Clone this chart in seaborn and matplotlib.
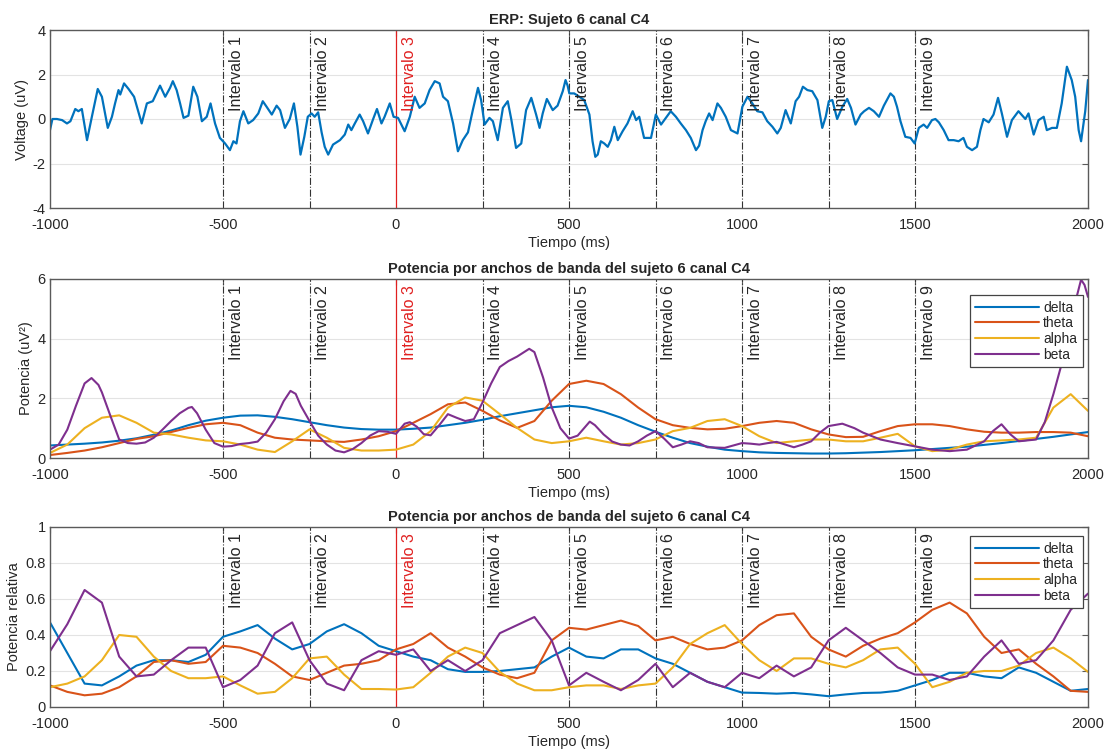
import numpy as np
import pandas as pd
import matplotlib
matplotlib.use("Agg")
import matplotlib.pyplot as plt
import matplotlib.transforms as mtransforms
import seaborn as sns

# ---------------- data ----------------
ERP_T = [-1000, -993, -980, -965, -951, -941, -927, -918, -908, -893, -879, -862, -850, -833, -821,
         -812, -802, -797, -786, -773, -757, -735, -720, -703, -691, -682, -667, -653, -645, -634,
         -624, -614, -600, -586, -574, -561, -547, -536, -523, -509, -494, -480, -470, -461, -451,
         -441, -427, -413, -398, -385, -374, -359, -345, -335, -321, -307, -295, -285, -276, -265,
         -255, -244, -235, -225, -215, -206, -196, -182, -162, -148, -138, -129, -119, -105, -95,
         -81, -66, -55, -42, -33, -18, -7, 6, 25, 40, 54, 68, 83, 97, 112, 126, 136, 150, 165, 179,
         193, 208, 222, 237, 246, 256, 270, 280, 294, 309, 323, 333, 347, 362, 376, 391, 405, 415,
         424, 436, 453, 467, 482, 490, 496, 501, 515, 530, 544, 559, 568, 576, 583, 592, 602, 612,
         621, 631, 641, 655, 669, 684, 694, 703, 717, 737, 751, 766, 780, 794, 809, 823, 838, 852,
         867, 876, 886, 895, 905, 915, 929, 939, 953, 968, 987, 1001, 1016, 1030, 1044, 1059, 1073,
         1088, 1102, 1112, 1126, 1141, 1155, 1165, 1176, 1189, 1203, 1218, 1232, 1242, 1251, 1261,
         1275, 1290, 1304, 1315, 1328, 1343, 1353, 1367, 1381, 1396, 1410, 1429, 1439, 1448, 1458,
         1472, 1487, 1499, 1511, 1525, 1535, 1549, 1559, 1569, 1583, 1597, 1612, 1626, 1640, 1650,
         1665, 1679, 1689, 1698, 1713, 1727, 1740, 1751, 1766, 1780, 1799, 1819, 1828, 1843, 1857,
         1872, 1881, 1896, 1910, 1924, 1939, 1953, 1963, 1973, 1980, 1992, 2000]
ERP_V = [-0.5, 0.0, 0.0, -0.05, -0.2, -0.1, 0.45, 0.35, 0.45, -0.95, 0.1, 1.35, 1.0, -0.4, 0.1,
         0.7, 1.3, 1.1, 1.6, 1.35, 1.0, -0.2, 0.7, 0.8, 1.2, 1.5, 1.0, 1.4, 1.7, 1.3,
         0.7, 0.05, 0.15, 1.45, 1.0, -0.1, 0.1, 0.7, -0.2, -0.85, -1.1, -1.4, -1.0, -1.1, -0.1,
         0.35, -0.2, -0.05, 0.25, 0.8, 0.55, 0.2, 0.6, 0.4, -0.4, 0.0, 0.7, -0.35, -1.6, -0.8,
         0.1, 0.25, 0.1, 0.3, -0.6, -1.25, -1.6, -1.15, -0.95, -0.7, -0.25, -0.5, -0.2, 0.2, -0.1,
         -0.65, 0.0, 0.45, -0.2, 0.1, 0.7, 0.1, 0.05, -0.55, 0.1, 1.0, 0.5, 0.7, 1.3, 1.7, 1.6, 1.0, 0.8, -0.2, -1.45,
         -0.95, -0.6, 0.4, 1.4, 0.85, -0.25, 0.05, -0.1, -0.95, 0.5, 0.8, 0.0, -1.3, -1.1, 0.4, 0.95, 0.2, -0.4,
         0.25, 0.9, 0.4, 0.6, 1.25, 1.75, 1.5, 1.15, 1.15, 1.0, 0.85, 0.2, -1.0, -1.7, -1.6, -1.0, -1.1, -1.25,
         -0.95, -0.35, -0.95, -0.55, -0.2, 0.35, -0.05, 0.1, -0.85, -0.85, 0.2, -0.25, 0.05, 0.35, 0.1, -0.2, -0.5, -0.85,
         -1.4, -1.2, -0.5, -0.1, 0.25, -0.05, 0.7, 0.5, 0.1, -0.5, -0.65, 0.55, 1.0, 0.7, 0.35, 0.3, -0.1,
         -0.35, -0.65, -0.4, 0.4, -0.2, 0.8, 1.0, 1.45, 1.3, 1.25, 0.85, -0.4, 0.1, 0.8, 0.85,
         0.0, 0.55, 0.9, 0.5, -0.25, 0.2, 0.35, 0.5, 0.35, 0.1, 0.6, 1.15, 1.0, 0.55, -0.1,
         -0.8, -0.85, -1.1, -0.4, -0.25, -0.4, -0.05, 0.0, -0.15, -0.5, -0.95, -0.95, -1.0, -0.85, -1.25,
         -1.4, -1.25, -0.5, 0.0, -0.15, 0.2, 0.95, 0.25, -0.8, -0.05, 0.35, 0.0, 0.25, -0.7, -0.05,
         0.1, -0.5, -0.4, -0.4, 0.7, 2.35, 1.75, 1.0, -0.5, -1.0, 0.35, 1.75]

T_GRID = list(range(-1000, 2001, 50))

BANDS = ["delta", "theta", "alpha", "beta"]
BAND_COLORS = ["#0072BD", "#D95319", "#EDB120", "#7E2F8E"]

# absolute power (uV^2)
P_DELTA = [0.42, 0.45, 0.48, 0.52, 0.58, 0.66, 0.78, 0.92, 1.1, 1.25, 1.35, 1.42, 1.43, 1.38, 1.3, 1.2, 1.1, 1.02, 0.97, 0.95,
           0.95, 0.98, 1.02, 1.1, 1.18, 1.28, 1.4, 1.5, 1.6, 1.7, 1.75, 1.7, 1.55, 1.35, 1.1, 0.88, 0.68, 0.5, 0.38, 0.28,
           0.23, 0.19, 0.17, 0.16, 0.15, 0.15, 0.16, 0.18, 0.2, 0.23, 0.26, 0.3, 0.34, 0.38, 0.44, 0.5, 0.57, 0.64, 0.71, 0.79, 0.87]
P_THETA = [0.1, 0.17, 0.25, 0.36, 0.5, 0.64, 0.73, 0.87, 1.01, 1.13, 1.18, 1.1, 0.85, 0.68, 0.62, 0.59, 0.56, 0.54, 0.62, 0.73,
           0.9, 1.18, 1.47, 1.8, 1.86, 1.58, 1.26, 1.01, 1.24, 1.92, 2.48, 2.59, 2.48, 2.14, 1.69, 1.3, 1.1, 1.01, 0.96, 0.98,
           1.07, 1.18, 1.24, 1.18, 0.96, 0.79, 0.7, 0.71, 0.9, 1.07, 1.13, 1.13, 1.07, 0.96, 0.88, 0.85, 0.85, 0.87, 0.87, 0.85, 0.73]
P_ALPHA = [0.17, 0.45, 1.0, 1.35, 1.43, 1.18, 0.85, 0.79, 0.68, 0.59, 0.56, 0.45, 0.28, 0.2, 0.56, 0.96, 0.68, 0.34, 0.25, 0.25,
           0.28, 0.45, 0.9, 1.69, 2.03, 1.92, 1.47, 1.01, 0.62, 0.5, 0.56, 0.68, 0.56, 0.45, 0.5, 0.62, 0.9, 1.01, 1.24, 1.3,
           1.07, 0.73, 0.5, 0.56, 0.62, 0.62, 0.56, 0.56, 0.68, 0.81, 0.39, 0.23, 0.28, 0.45, 0.56, 0.59, 0.62, 0.68, 1.69, 2.14, 1.58]
P_BETA_T = [-1000, -975, -950, -925, -900, -880, -860, -850, -825, -800, -775, -750, -725, -700, -675, -650, -625, -600,
            -590, -575, -550, -525, -500, -475, -450, -425, -400, -375, -350, -325, -305, -290, -275, -250, -225, -200,
            -175, -150, -125, -100, -75, -50, -25, 0, 25, 40, 60, 80, 100, 125, 150, 175, 200, 225, 250, 275, 300, 325,
            350, 385, 400, 425, 450, 475, 500, 525, 560, 575, 600, 625, 650, 675, 700, 725, 750, 775, 800, 825, 850,
            875, 900, 950, 1000, 1025, 1050, 1075, 1100, 1125, 1150, 1175, 1200, 1225, 1250, 1290, 1325, 1350, 1400,
            1450, 1500, 1550, 1600, 1650, 1700, 1725, 1750, 1775, 1800, 1850, 1875, 1900, 1925, 1950, 1965, 1980, 1990, 2000]
P_BETA = [0.28, 0.45, 0.95, 1.75, 2.5, 2.68, 2.45, 2.2, 1.4, 0.62, 0.5, 0.48, 0.52, 0.68, 0.95, 1.24, 1.5, 1.68,
          1.71, 1.5, 0.95, 0.5, 0.38, 0.4, 0.47, 0.5, 0.55, 0.85, 1.3, 1.9, 2.25, 2.15, 1.75, 1.24, 0.75, 0.45,
          0.25, 0.19, 0.3, 0.5, 0.75, 0.9, 0.88, 0.81, 1.15, 1.2, 1.05, 0.8, 0.76, 1.1, 1.47, 1.35, 1.24, 1.3, 1.86, 2.5, 3.05, 3.25,
          3.4, 3.66, 3.55, 2.7, 1.7, 1.0, 0.65, 0.75, 1.22, 1.1, 0.79, 0.55, 0.45, 0.42, 0.56, 0.75, 0.9, 0.65, 0.36, 0.45, 0.56,
          0.5, 0.36, 0.34, 0.5, 0.48, 0.45, 0.5, 0.54, 0.45, 0.36, 0.45, 0.56, 0.85, 1.07, 1.15, 1.0, 0.85, 0.62,
          0.5, 0.39, 0.28, 0.23, 0.28, 0.56, 0.9, 1.13, 0.8, 0.56, 0.62, 1.2, 2.14, 3.2, 4.4, 5.3, 5.98, 5.8, 5.4]

# relative power
R_DELTA = [0.47, 0.3, 0.13, 0.12, 0.17, 0.23, 0.26, 0.26, 0.25, 0.29, 0.39, 0.42, 0.455, 0.38, 0.32, 0.35, 0.42, 0.46, 0.41, 0.34,
           0.31, 0.28, 0.26, 0.21, 0.195, 0.195, 0.2, 0.21, 0.22, 0.28, 0.33, 0.28, 0.27, 0.32, 0.32, 0.27, 0.24, 0.19, 0.14, 0.11,
           0.08, 0.078, 0.074, 0.078, 0.07, 0.06, 0.07, 0.078, 0.08, 0.09, 0.12, 0.15, 0.19, 0.19, 0.17, 0.16, 0.22, 0.19, 0.14, 0.09, 0.1]
R_THETA = [0.12, 0.084, 0.065, 0.074, 0.11, 0.17, 0.25, 0.26, 0.24, 0.25, 0.34, 0.33, 0.3, 0.24, 0.17, 0.15, 0.19, 0.23, 0.24, 0.26,
           0.32, 0.35, 0.41, 0.33, 0.28, 0.22, 0.18, 0.16, 0.19, 0.37, 0.44, 0.43, 0.455, 0.48, 0.45, 0.37, 0.39, 0.35, 0.32, 0.33,
           0.37, 0.455, 0.51, 0.52, 0.39, 0.32, 0.28, 0.34, 0.38, 0.41, 0.47, 0.54, 0.58, 0.52, 0.39, 0.3, 0.32, 0.24, 0.17, 0.09, 0.084]
R_ALPHA = [0.11, 0.13, 0.17, 0.26, 0.4, 0.39, 0.28, 0.2, 0.16, 0.16, 0.17, 0.12, 0.074, 0.084, 0.16, 0.27, 0.28, 0.18, 0.1, 0.1,
           0.097, 0.11, 0.19, 0.28, 0.33, 0.3, 0.195, 0.13, 0.093, 0.093, 0.11, 0.12, 0.12, 0.1, 0.12, 0.13, 0.22, 0.35, 0.41, 0.455,
           0.35, 0.26, 0.2, 0.27, 0.27, 0.24, 0.22, 0.26, 0.32, 0.33, 0.24, 0.11, 0.14, 0.19, 0.2, 0.2, 0.23, 0.3, 0.33, 0.27, 0.195]
R_BETA = [0.31, 0.46, 0.65, 0.58, 0.28, 0.17, 0.18, 0.26, 0.33, 0.33, 0.11, 0.15, 0.23, 0.41, 0.47, 0.26, 0.13, 0.093, 0.26, 0.31,
          0.29, 0.32, 0.2, 0.26, 0.2, 0.26, 0.41, 0.455, 0.5, 0.37, 0.12, 0.19, 0.14, 0.093, 0.15, 0.24, 0.11, 0.19, 0.14, 0.11,
          0.19, 0.16, 0.23, 0.17, 0.22, 0.37, 0.44, 0.37, 0.3, 0.22, 0.18, 0.18, 0.15, 0.17, 0.28, 0.37, 0.24, 0.26, 0.37, 0.54, 0.63]

INTERVAL_X = [-500, -250, 0, 250, 500, 750, 1000, 1250, 1500]
INTERVAL_LABELS = ["Intervalo %d" % i for i in range(1, 10)]
X_TICKS = [-1000, -500, 0, 500, 1000, 1500, 2000]

TITLE_ERP = "ERP: Sujeto 6 canal C4"
TITLE_BAND = "Potencia por anchos de banda del sujeto 6 canal C4"

# ---------------- style ----------------
sns.set_theme(style="white")
plt.rcParams['font.family'] = ['Liberation Sans', 'DejaVu Sans']

TXT = "#262626"
EDGE = "#5a5a5a"

fig = plt.figure(figsize=(11.07, 7.53), dpi=100)
W, H = 1107.0, 753.0
def pos(l, r, t, b):
    return [l / W, 1 - b / H, (r - l) / W, (b - t) / H]

ax1 = fig.add_axes(pos(50, 1088, 30, 208))
ax2 = fig.add_axes(pos(50, 1088, 279, 458))
ax3 = fig.add_axes(pos(50, 1088, 527, 707))


def style_axes(ax, ylim, yticks, yticklabels, ylabel, title):
    ax.set_xlim(-1000, 2000)
    ax.set_ylim(*ylim)
    ax.set_xticks(X_TICKS)
    ax.set_xticklabels([str(v) for v in X_TICKS])
    ax.set_yticks(yticks)
    ax.set_yticklabels(yticklabels)
    ax.yaxis.grid(True, color="#e3e3e3", lw=0.8)
    ax.xaxis.grid(False)
    ax.set_axisbelow(True)
    for s in ax.spines.values():
        s.set_color(EDGE)
        s.set_linewidth(1.0)
    ax.tick_params(direction="in", top=True, right=True, length=4, width=0.8,
                   color=EDGE, labelcolor=TXT, labelsize=10.5)
    ax.tick_params(axis="x", pad=7)
    ax.tick_params(axis="y", pad=3)
    ax.set_xlabel("Tiempo (ms)", fontsize=10.5, color=TXT, labelpad=3)
    ax.set_ylabel(ylabel, fontsize=10.5, color=TXT, labelpad=3)
    ax.set_title(title, fontsize=10.5, fontweight="bold", color=TXT, pad=4)
    trans = mtransforms.blended_transform_factory(ax.transData, ax.transAxes)
    trans = mtransforms.offset_copy(trans, fig=fig, x=4.0, y=0, units="points")
    for xv, lab in zip(INTERVAL_X, INTERVAL_LABELS):
        if xv == 0:
            ax.axvline(xv, color="#e02020", lw=0.9, ls="-", zorder=1.5)
            col = "#e02020"
        else:
            ax.axvline(xv, color="#333333", lw=0.8, ls="-.", zorder=1.5)
            col = TXT
        ax.text(xv, 0.965, lab, transform=trans, rotation=90, ha="left", va="top",
                fontsize=11.5, color=col)


# top: ERP
sns.lineplot(x=ERP_T, y=ERP_V, ax=ax1, color="#0072BD", lw=1.6, estimator=None, sort=False)
style_axes(ax1, (-4, 4), [-4, -2, 0, 2, 4], ["-4", "-2", "0", "2", "4"], "Voltage (uV)", TITLE_ERP)

# middle: absolute power
frames = []
for name, vals in zip(["delta", "theta", "alpha"], [P_DELTA, P_THETA, P_ALPHA]):
    frames.append(pd.DataFrame({"t": T_GRID, "v": vals, "band": name}))
frames.append(pd.DataFrame({"t": P_BETA_T, "v": P_BETA, "band": "beta"}))
df_p = pd.concat(frames, ignore_index=True)
sns.lineplot(data=df_p, x="t", y="v", hue="band", hue_order=BANDS, palette=BAND_COLORS,
             ax=ax2, lw=1.5, estimator=None, sort=False)
style_axes(ax2, (0, 6), [0, 2, 4, 6], ["0", "2", "4", "6"], "Potencia (uV²)", TITLE_BAND)

# bottom: relative power
frames = []
for name, vals in zip(BANDS, [R_DELTA, R_THETA, R_ALPHA, R_BETA]):
    frames.append(pd.DataFrame({"t": T_GRID, "v": vals, "band": name}))
df_r = pd.concat(frames, ignore_index=True)
sns.lineplot(data=df_r, x="t", y="v", hue="band", hue_order=BANDS, palette=BAND_COLORS,
             ax=ax3, lw=1.5, estimator=None, sort=False)
style_axes(ax3, (0, 1), [0, 0.2, 0.4, 0.6, 0.8, 1.0], ["0", "0.2", "0.4", "0.6", "0.8", "1"],
           "Potencia relativa", TITLE_BAND)

for ax, top_pad in ((ax2, 0.09), (ax3, 0.05)):
    h, l = ax.get_legend_handles_labels()
    leg = ax.legend(h, l, loc="upper right", bbox_to_anchor=(0.995, 1 - top_pad),
                    fontsize=10, frameon=True, fancybox=False, framealpha=1,
                    edgecolor="#444444", handlelength=4.6, handletextpad=0.3,
                    labelspacing=0.12, borderpad=0.4, borderaxespad=0.0)
    leg.get_frame().set_linewidth(0.9)
    for txt in leg.get_texts():
        txt.set_color(TXT)

fig.savefig("out.png", dpi=100)
